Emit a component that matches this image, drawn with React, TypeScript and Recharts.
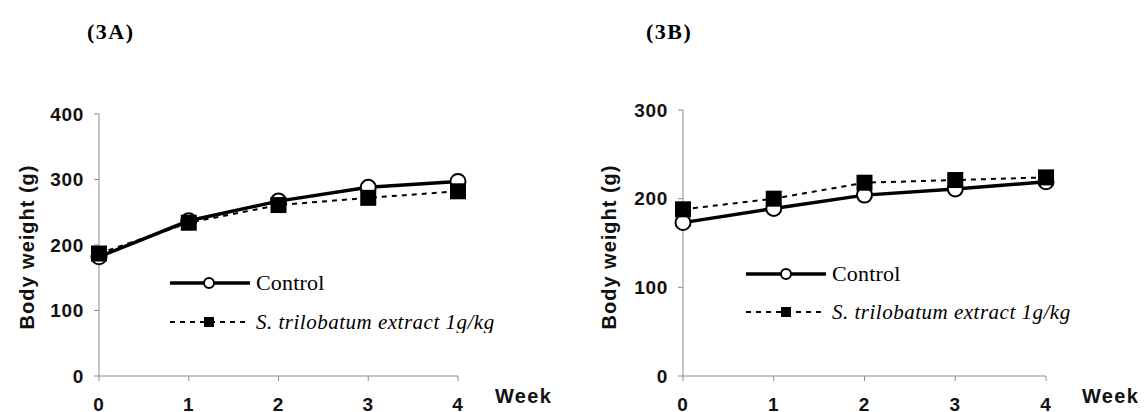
import React from 'react'
import { LineChart, Line, XAxis, YAxis, Legend } from 'recharts'

const weeks = [0, 1, 2, 3, 4]
const controlA = [182, 237, 267, 288, 297]
const extractA = [187, 234, 261, 272, 282]
const controlB = [173, 189, 204, 211, 219]
const extractB = [188, 200, 218, 221, 224]
const ticksA = [0, 100, 200, 300, 400]
const ticksB = [0, 100, 200, 300]
const seriesNames = ['Control', 'S. trilobatum extract 1g/kg']

const AXIS = '#8c8c8c'
const tickFont = { fontFamily: 'Liberation Sans, Arial, sans-serif', fontWeight: 700, fontSize: 19, fill: '#111', letterSpacing: 0.7 }

const buildRows = (control: number[], extract: number[]) =>
  weeks.map((w, i) => ({ week: w, control: control[i], extract: extract[i] }))

const SquareDot = (props: any) => {
  const { cx, cy, index } = props
  if (cx == null || cy == null) return null
  return <rect key={`sq-${index}`} x={cx - 8} y={cy - 8} width={16} height={16} fill="#000" />
}

const CircleDot = (props: any) => {
  const { cx, cy, index } = props
  if (cx == null || cy == null) return null
  return <circle key={`ci-${index}`} cx={cx} cy={cy} r={7.5} fill="#fff" stroke="#000" strokeWidth={2} />
}

interface LegendGeo {
  lineEnd: number
  marker: number
  textX: number
  rowGap: number
}

const makeLegend = (geo: LegendGeo) => () => {
  const y1 = 20
  const y2 = 20 + geo.rowGap
  return (
    <svg width={380} height={70}>
      <line x1={10} x2={geo.lineEnd} y1={y1} y2={y1} stroke="#000" strokeWidth={3.5} />
      <circle cx={geo.marker} cy={y1} r={5} fill="#fff" stroke="#000" strokeWidth={2} />
      <text x={geo.textX} y={y1 + 7} fontFamily="Liberation Serif, Times New Roman, serif" fontSize={22} letterSpacing={0.2} fill="#000">
        {seriesNames[0]}
      </text>
      <line x1={10} x2={geo.lineEnd} y1={y2} y2={y2} stroke="#000" strokeWidth={2} strokeDasharray="5 5" />
      <rect x={geo.marker - 5} y={y2 - 5} width={10} height={10} fill="#000" />
      <text x={geo.textX} y={y2 + 7} fontFamily="Liberation Serif, Times New Roman, serif" fontStyle="italic" fontSize={21} letterSpacing={0.5} fill="#000">
        {seriesNames[1]}
      </text>
    </svg>
  )
}

interface PanelProps {
  left: number
  width: number
  top: number
  right: number
  yWidth: number
  yMax: number
  yTicks: number[]
  control: number[]
  extract: number[]
  weekOffset: number
  labelX: number
  labelDy: number
  legendLeft: number
  legendTop: number
  legend: LegendGeo
}

const Panel: React.FC<PanelProps> = (p) => {
  const rows = buildRows(p.control, p.extract)
  return (
    <div style={{ position: 'absolute', left: p.left, top: 0 }}>
      <LineChart width={p.width} height={412} data={rows} margin={{ top: p.top, right: p.right, left: 0, bottom: 0 }}>
        <XAxis
          dataKey="week"
          type="number"
          domain={[0, 4]}
          ticks={weeks}
          height={36}
          stroke={AXIS}
          tickSize={5}
          tickMargin={17}
          tick={tickFont}
          tickLine={{ stroke: AXIS }}
          label={{ value: 'Week', position: 'right', offset: p.weekOffset, dy: 2, style: { ...tickFont, fontSize: 20, letterSpacing: 1.3 } }}
        />
        <YAxis
          type="number"
          domain={[0, p.yMax]}
          ticks={p.yTicks}
          width={p.yWidth}
          stroke={AXIS}
          tickSize={5}
          tickMargin={10}
          tick={tickFont}
          tickLine={{ stroke: AXIS }}
          label={{ value: 'Body weight (g)', angle: -90, position: 'center', dx: p.labelX - p.yWidth / 2, dy: p.labelDy, style: { ...tickFont, fontSize: 20, letterSpacing: 1 } }}
        />
        <Legend
          layout="vertical"
          align="center"
          verticalAlign="middle"
          content={makeLegend(p.legend)}
          wrapperStyle={{ left: p.legendLeft, top: p.legendTop, width: 380, height: 70 }}
        />
        <Line name={seriesNames[0]} dataKey="control" stroke="#000" strokeWidth={3.5} dot={CircleDot} type="linear" isAnimationActive={false} />
        <Line name={seriesNames[1]} dataKey="extract" stroke="#000" strokeWidth={2} strokeDasharray="5 5" dot={SquareDot} type="linear" isAnimationActive={false} />
      </LineChart>
    </div>
  )
}

const titleStyle: React.CSSProperties = {
  position: 'absolute',
  top: 19,
  fontFamily: 'Liberation Serif, Times New Roman, serif',
  fontWeight: 700,
  fontSize: 22,
  letterSpacing: 1.5,
  lineHeight: '26px',
}

export default function App() {
  return (
    <div style={{ position: 'absolute', left: 0, top: 0, width: 1144, height: 412, background: '#fff', overflow: 'hidden' }}>
      <div style={{ ...titleStyle, left: 87 }}>(3A)</div>
      <div style={{ ...titleStyle, left: 646 }}>(3B)</div>
      <Panel
        left={0}
        width={580}
        top={114}
        right={122}
        yWidth={99}
        yMax={400}
        yTicks={ticksA}
        control={controlA}
        extract={extractA}
        weekOffset={37}
        labelX={27}
        labelDy={2}
        legendLeft={160}
        legendTop={263}
        legend={{ lineEnd: 90, marker: 49, textX: 96, rowGap: 39 }}
      />
      <Panel
        left={580}
        width={564}
        top={110}
        right={98}
        yWidth={103}
        yMax={300}
        yTicks={ticksB}
        control={controlB}
        extract={extractB}
        weekOffset={36}
        labelX={29}
        labelDy={4}
        legendLeft={156}
        legendTop={254}
        legend={{ lineEnd: 90, marker: 50, textX: 96, rowGap: 38 }}
      />
    </div>
  )
}
